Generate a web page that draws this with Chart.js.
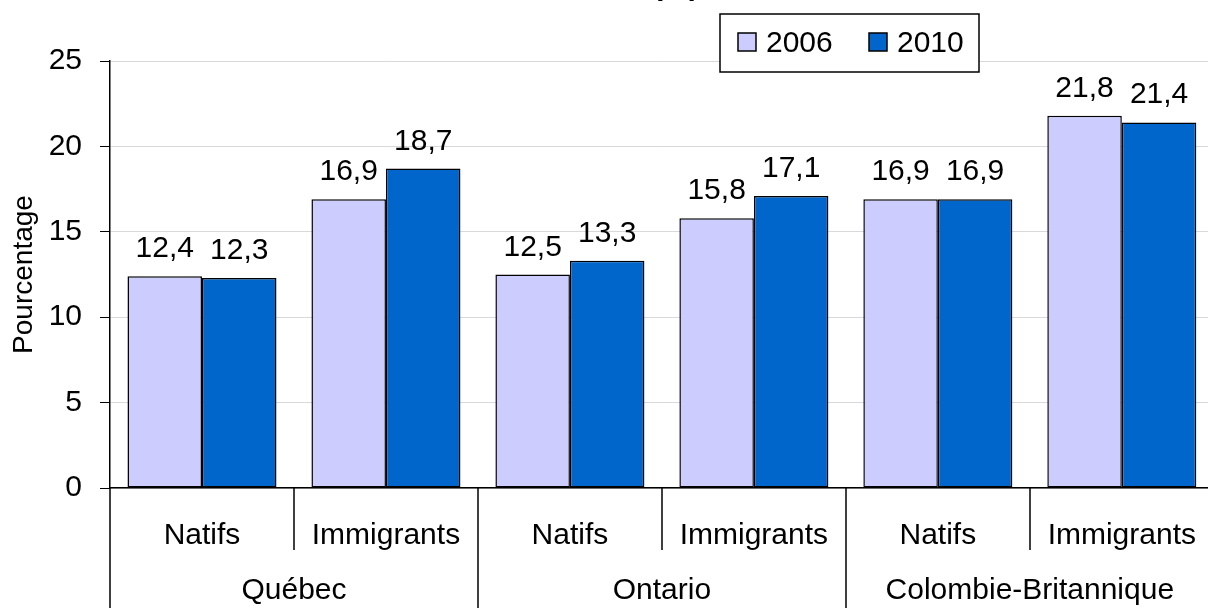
<!DOCTYPE html>
<html>
<head>
<meta charset="utf-8">
<script src="https://cdn.jsdelivr.net/npm/chart.js@4.4.0/dist/chart.umd.min.js"></script>
<style>
  html, body { margin: 0; padding: 0; background: #fff; overflow: hidden; }
  #wrap { width: 1218px; height: 608px; }
</style>
</head>
<body>
<div id="wrap"><canvas id="myChart" width="1218" height="608"></canvas></div>
<script>
// Data
const subgroups = ['Natifs', 'Immigrants', 'Natifs', 'Immigrants', 'Natifs', 'Immigrants'];
const regions = ['Québec', 'Ontario', 'Colombie-Britannique'];
const years = ['2006', '2010'];
const values2006 = [12.4, 16.9, 12.5, 15.8, 16.9, 21.8];
const values2010 = [12.3, 18.7, 13.3, 17.1, 16.9, 21.4];
const yTicks = [0, 5, 10, 15, 20, 25];

const colors = ['#CCCCFF', '#0066CC'];
const FONT = '"Liberation Sans", Arial, sans-serif';

function fmt(v) {
  return v.toFixed(1).replace('.', ',');
}

// value labels above each bar
const valueLabels = {
  id: 'valueLabels',
  afterDatasetsDraw(chart) {
    const ctx = chart.ctx;
    ctx.save();
    ctx.font = '30px ' + FONT;
    ctx.fillStyle = '#000';
    ctx.textAlign = 'center';
    ctx.textBaseline = 'alphabetic';
    chart.data.datasets.forEach((ds, i) => {
      chart.getDatasetMeta(i).data.forEach((bar, j) => {
        ctx.fillText(fmt(ds.data[j]), bar.x, bar.y - 19);
      });
    });
    ctx.restore();
  }
};

// divider lines, region labels, legend box, cut title
const extras = {
  id: 'extras',
  afterDraw(chart) {
    const ctx = chart.ctx;
    const x = chart.scales.x;
    const area = chart.chartArea;
    const H = chart.height;
    const step = x.getPixelForValue(1) - x.getPixelForValue(0);
    ctx.save();
    ctx.strokeStyle = '#000';
    ctx.lineWidth = 1.5;

    // y axis runs down through the label rows
    ctx.beginPath();
    ctx.moveTo(area.left, area.bottom);
    ctx.lineTo(area.left, H);
    ctx.stroke();

    for (let i = 1; i < subgroups.length; i++) {
      const px = Math.round(x.getPixelForValue(i) - step / 2);
      ctx.beginPath();
      ctx.moveTo(px, area.bottom);
      ctx.lineTo(px, i % 2 === 0 ? H : area.bottom + 62);
      ctx.stroke();
    }

    ctx.font = '30px ' + FONT;
    ctx.fillStyle = '#000';
    ctx.textAlign = 'center';
    ctx.textBaseline = 'middle';
    regions.forEach((r, k) => {
      const cx = (x.getPixelForValue(2 * k) + x.getPixelForValue(2 * k + 1)) / 2;
      ctx.fillText(r, cx, 591);
    });

    // title, mostly above the top edge
    ctx.font = 'bold 30px ' + FONT;
    ctx.textBaseline = 'alphabetic';
    ctx.fillText('(%)', 676, -5);

    // legend
    ctx.fillStyle = '#fff';
    ctx.fillRect(720, 14, 259, 58);
    ctx.strokeRect(720, 14, 259, 58);
    ctx.font = '30px ' + FONT;
    ctx.textAlign = 'left';
    ctx.textBaseline = 'middle';
    const lx = [738, 869];
    years.forEach((y, i) => {
      ctx.fillStyle = colors[i];
      ctx.fillRect(lx[i], 33, 18, 18);
      ctx.strokeRect(lx[i], 33, 18, 18);
      ctx.fillStyle = '#000';
      ctx.fillText(y, lx[i] + 28, 44);
    });
    ctx.restore();
  }
};

const data = {
  labels: subgroups,
  datasets: [{
    label: years[0],
    data: values2006,
    backgroundColor: colors[0],
    borderColor: '#000',
    borderWidth: 1.5,
    borderSkipped: false
  }, {
    label: years[1],
    data: values2010,
    backgroundColor: colors[1],
    borderColor: '#000',
    borderWidth: 1.5,
    borderSkipped: false
  }]
};

const config = {
  type: 'bar',
  data,
  options: {
    responsive: false,
    animation: false,
    layout: { padding: { top: 61, left: 0, right: 0, bottom: 0 } },
    categoryPercentage: 0.81,
    barPercentage: 1.0,
    plugins: {
      legend: { display: false },
      tooltip: { enabled: false }
    },
    scales: {
      x: {
        afterFit: s => { s.height = 120; },
        grid: { display: false },
        border: { color: '#000', width: 1.5 },
        ticks: {
          color: '#000',
          font: { family: FONT, size: 30 },
          padding: 22,
          maxRotation: 0,
          autoSkip: false
        }
      },
      y: {
        min: 0,
        max: 25,
        afterFit: s => { s.width = 110; },
        afterBuildTicks: s => { s.ticks = yTicks.map(v => ({ value: v })); },
        grid: { color: '#d9d9d9', tickColor: '#000', tickLength: 10, lineWidth: 1 },
        border: { color: '#000', width: 1.5 },
        title: {
          display: true,
          text: 'Pourcentage',
          color: '#000',
          font: { family: FONT, size: 28 },
          padding: { top: 7, bottom: 0 }
        },
        ticks: {
          color: '#000',
          font: { family: FONT, size: 30 },
          padding: 18
        }
      }
    }
  },
  plugins: [valueLabels, extras]
};

const myChart = new Chart(document.getElementById('myChart'), config);
</script>
</body>
</html>
